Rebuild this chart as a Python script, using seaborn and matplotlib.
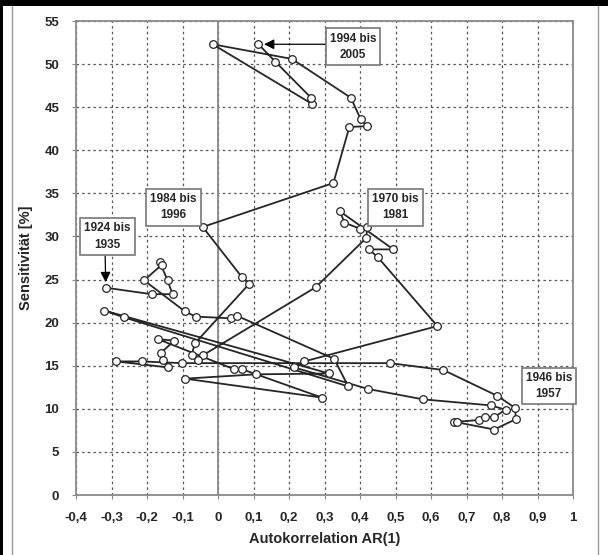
import matplotlib
matplotlib.use("Agg")
import matplotlib.pyplot as plt
from matplotlib.lines import Line2D
from matplotlib.patches import Rectangle
import seaborn as sns
import pandas as pd

# trajectory of (AR(1), sensitivity) for moving 12-year windows, in time order
ar1 = [-0.316, -0.187, -0.128, -0.142, -0.164, -0.159, -0.208, -0.093, -0.063, 0.036,
       0.053, 0.327, 0.367, -0.264, -0.320, 0.313, 0.106, -0.093, 0.293, 0.067,
       0.045, -0.170, -0.123, -0.161, -0.154, -0.140, -0.287, -0.215, -0.101,
       0.485, 0.635, 0.787,
       0.837, 0.839, 0.778, 0.665, 0.672, 0.735, 0.753, 0.777, 0.810, 0.768,
       0.577, 0.423, 0.215, 0.243, 0.618, 0.450, 0.425, 0.494,
       0.344, 0.356, 0.400, 0.421, 0.417, 0.275, -0.043, -0.056, -0.074, -0.065,
       0.088, 0.067, -0.043, 0.325, 0.370, 0.419, 0.402, 0.374, 0.208, -0.015,
       0.264, 0.262, 0.161, 0.114]
sens = [24.05, 23.3, 23.3, 24.9, 27.0, 26.7, 24.9, 21.3, 20.7, 20.5,
        20.8, 15.8, 12.6, 20.6, 21.4, 14.1, 14.0, 13.5, 11.3, 14.6,
        14.6, 18.1, 17.9, 16.5, 15.7, 14.8, 15.5, 15.5, 15.3,
        15.3, 14.5, 11.5,
        10.1, 8.8, 7.6, 8.5, 8.5, 8.7, 9.1, 9.0, 9.9, 10.4,
        11.1, 12.3, 14.8, 15.5, 19.6, 27.6, 28.5, 28.5,
        32.9, 31.6, 30.9, 31.1, 29.8, 24.1, 16.2, 15.7, 16.3, 17.6,
        24.5, 25.3, 31.1, 36.2, 42.7, 42.8, 43.6, 46.1, 50.6, 52.3,
        45.4, 46.1, 50.3, 52.3]

x_ticks = [-0.4, -0.3, -0.2, -0.1, 0, 0.1, 0.2, 0.3, 0.4, 0.5, 0.6, 0.7, 0.8, 0.9, 1]
x_ticklabels = ["-0,4", "-0,3", "-0,2", "-0,1", "0", "0,1", "0,2", "0,3", "0,4", "0,5",
                "0,6", "0,7", "0,8", "0,9", "1"]
y_ticks = [0, 5, 10, 15, 20, 25, 30, 35, 40, 45, 50, 55]

labels = ["1924 bis\n1935", "1946 bis\n1957", "1970 bis\n1981", "1984 bis\n1996", "1994 bis\n2005"]
label_pos = [(-0.311, 30.0), (0.932, 12.65), (0.499, 33.4), (-0.126, 33.4), (0.380, 52.0)]

sns.set_theme(style="white")
plt.rcParams["font.family"] = ["Liberation Sans", "DejaVu Sans"]

fig = plt.figure(figsize=(6.12, 5.55), dpi=100)
ax = fig.add_axes([76 / 612, 1 - 495 / 555, (573 - 76) / 612, (495 - 21) / 555])

df = pd.DataFrame({"ar1": ar1, "sens": sens})
sns.lineplot(data=df, x="ar1", y="sens", sort=False, estimator=None, ax=ax,
             color="#262626", linewidth=1.3, marker="o", markersize=5.5,
             markerfacecolor="white", markeredgecolor="#262626", markeredgewidth=0.9,
             zorder=4)

ax.set_xlim(-0.4, 1)
ax.set_ylim(0, 55)
ax.set_xticks(x_ticks)
ax.set_xticklabels(x_ticklabels, fontsize=9.5, fontweight="bold")
ax.set_yticks(y_ticks)
ax.set_yticklabels([str(v) for v in y_ticks], fontsize=9.5, fontweight="bold")
ax.tick_params(axis="x", length=3, width=0.8, color="#888888", pad=9, direction="out", bottom=True)
ax.tick_params(axis="y", length=3, width=0.8, color="#888888", pad=9, direction="out", left=True)
ax.grid(True, linestyle=(0, (2, 2.5)), color="#555555", linewidth=0.9)
ax.axvline(0, color="#888888", linewidth=1.3, zorder=2)
for s in ax.spines.values():
    s.set_color("#8a8a8a")
    s.set_linewidth(1.3)
    s.set_visible(True)
ax.set_xlabel("Autokorrelation AR(1)", fontsize=10.5, fontweight="bold", labelpad=6)
ax.set_ylabel("Sensitivität [%]", fontsize=10.5, fontweight="bold", labelpad=8)

box = dict(boxstyle="square,pad=0.35", facecolor="white", edgecolor="#777777", linewidth=1.2)
for txt, (tx, ty) in zip(labels, label_pos):
    ax.text(tx, ty, txt, ha="center", va="center", fontsize=8.5, fontweight="bold",
            bbox=box, zorder=6, linespacing=1.5, clip_on=False)

arrow = dict(arrowstyle="-|>,head_length=0.5,head_width=0.25", color="black", linewidth=0.9,
             shrinkA=0, shrinkB=4)
ax.annotate("", xy=(ar1[0], sens[0]), xytext=(-0.318, 28.0), arrowprops=arrow, zorder=5)
ax.annotate("", xy=(ar1[-1], sens[-1]), xytext=(0.323, 52.3), arrowprops=arrow, zorder=5)

# page frame around the figure
fig.add_artist(Rectangle((0, 1 - 6 / 555), 608 / 612, 6 / 555, transform=fig.transFigure,
                         facecolor="black", edgecolor="none"))
fig.add_artist(Rectangle((0, 0), 3.5 / 612, 1, transform=fig.transFigure,
                         facecolor="black", edgecolor="none"))
fig.add_artist(Line2D([11.5 / 612, 11.5 / 612], [0, 1 - 6 / 555], transform=fig.transFigure,
                      color="#999999", linewidth=1))
fig.add_artist(Line2D([597.5 / 612, 597.5 / 612], [0, 1 - 6 / 555], transform=fig.transFigure,
                      color="#999999", linewidth=1))

fig.savefig("out.png", dpi=100)
